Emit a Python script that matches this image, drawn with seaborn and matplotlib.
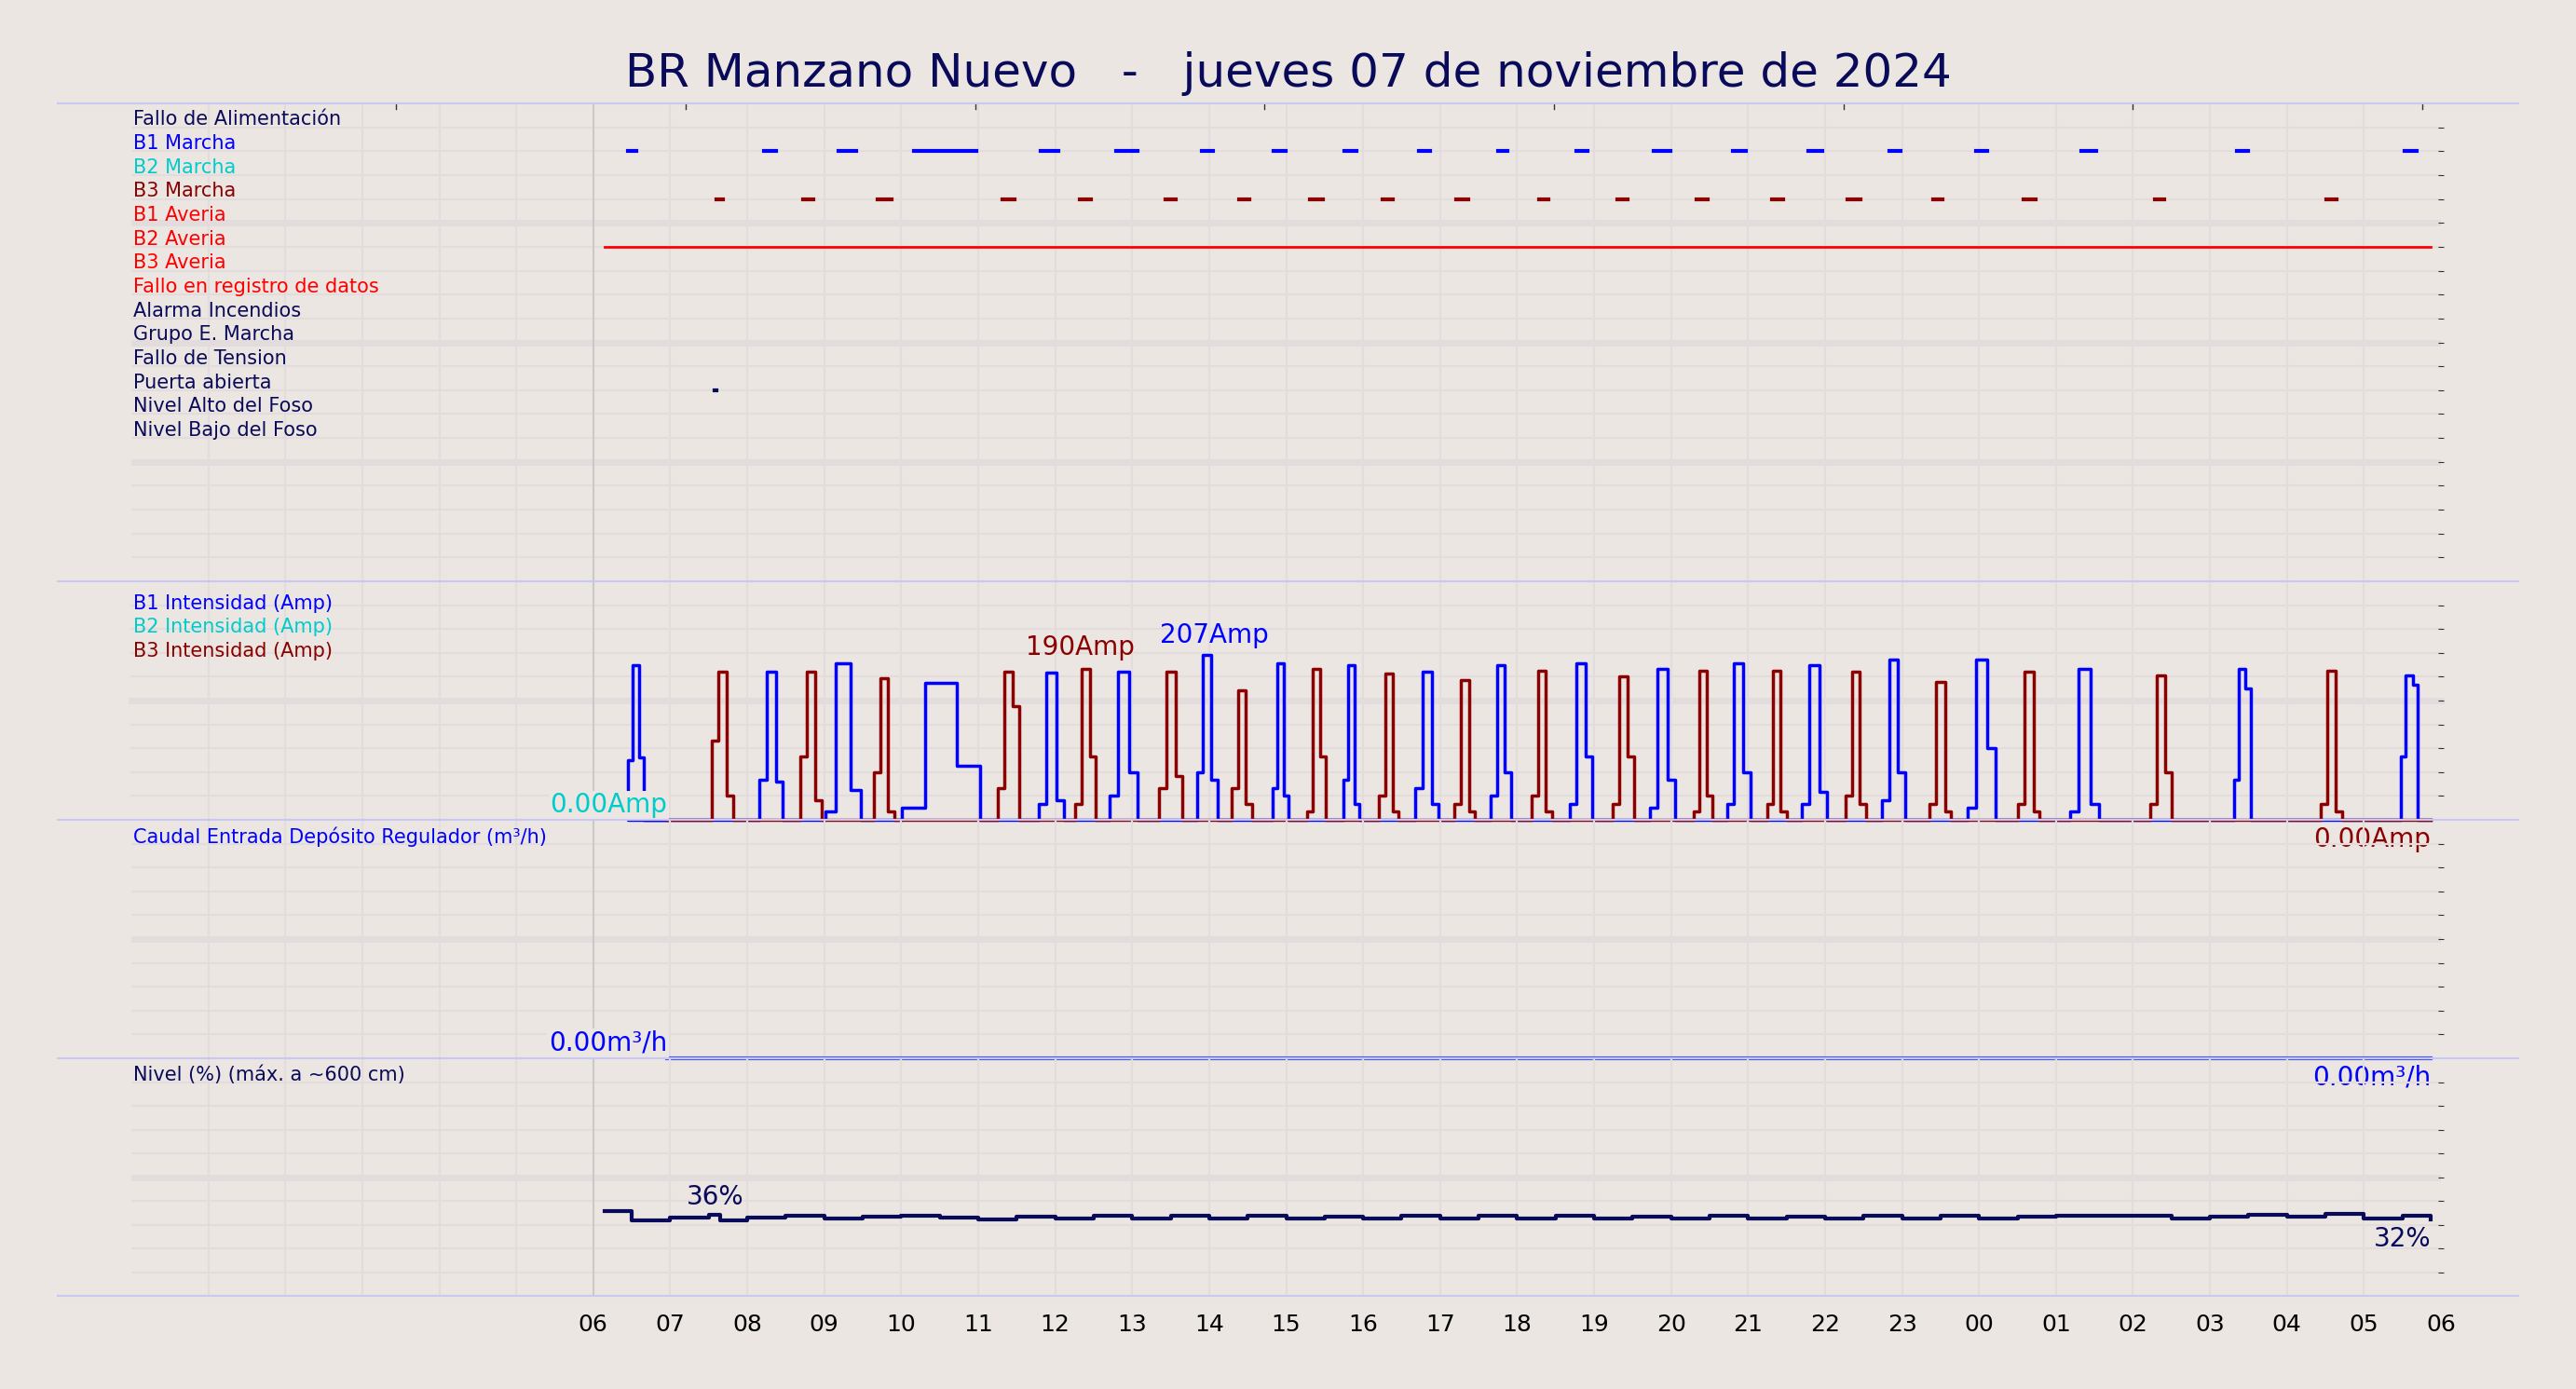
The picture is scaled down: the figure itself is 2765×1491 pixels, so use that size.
import numpy as np
import pandas as pd
import seaborn as sns
import matplotlib.pyplot as plt
from matplotlib.lines import Line2D

BG = '#ebe6e1'
GRID = '#e2dddc'
NAVY = '#0a0a5a'

title = 'BR Manzano Nuevo   -   jueves 07 de noviembre de 2024'

digital_labels = ['Fallo de Alimentación', 'B1 Marcha', 'B2 Marcha', 'B3 Marcha',
                  'B1 Averia', 'B2 Averia', 'B3 Averia', 'Fallo en registro de datos',
                  'Alarma Incendios', 'Grupo E. Marcha', 'Fallo de Tension',
                  'Puerta abierta', 'Nivel Alto del Foso', 'Nivel Bajo del Foso']
digital_colors = [NAVY, 'blue', '#00cccc', '#8b0000', 'red', 'red', 'red', 'red',
                  NAVY, NAVY, NAVY, NAVY, NAVY, NAVY]

# hours (06 = 6, next day 00 = 24)
b1_marcha = [(6.45, 6.56), (8.22, 8.37), (9.18, 9.42), (10.16, 10.98), (11.81, 12.04),
             (12.79, 13.07), (13.90, 14.05), (14.84, 14.99), (15.76, 15.91), (16.72, 16.87),
             (17.75, 17.87), (18.77, 18.92), (19.77, 19.99), (20.80, 20.97), (21.78, 21.97),
             (22.83, 22.98), (23.96, 24.11), (25.33, 25.52), (27.35, 27.50), (29.53, 29.68)]
b3_marcha = [(7.60, 7.69), (8.73, 8.86), (9.69, 9.87), (11.32, 11.47), (12.32, 12.47),
             (13.43, 13.56), (14.39, 14.52), (15.31, 15.48), (16.25, 16.38), (17.21, 17.36),
             (18.28, 18.41), (19.30, 19.43), (20.33, 20.48), (21.31, 21.46), (22.29, 22.46),
             (23.40, 23.53), (24.58, 24.73), (26.29, 26.41), (28.51, 28.64)]
b2_averia = [(6.15, 29.87)]
puerta = [(7.57, 7.60)]

# current pulses: start, end, level before peak, peak, level after peak (Amp)
b1_pulses = [(6.45, 6.66, 75, 194, 78), (8.16, 8.46, 50, 186, 48), (9.01, 9.48, 10, 197, 37),
             (10.01, 11.02, 15, 172, 68), (11.79, 12.11, 20, 185, 25), (12.71, 13.07, 30, 186, 60),
             (13.84, 14.11, 60, 207, 50), (14.82, 15.03, 40, 197, 30), (15.74, 15.95, 50, 194, 20),
             (16.68, 16.98, 40, 186, 20), (17.66, 17.92, 30, 194, 60), (18.68, 18.98, 20, 197, 80),
             (19.73, 20.05, 15, 190, 50), (20.73, 21.03, 20, 197, 60), (21.70, 22.02, 20, 194, 35),
             (22.74, 23.04, 25, 201, 60), (23.85, 24.22, 15, 201, 90), (25.18, 25.56, 10, 190, 20),
             (27.31, 27.53, 50, 190, 165), (29.48, 29.70, 80, 182, 170)]
b3_pulses = [(7.54, 7.82, 100, 186, 30), (8.69, 8.97, 80, 186, 25), (9.65, 9.91, 60, 178, 10),
             (11.25, 11.53, 40, 186, 143), (12.26, 12.53, 20, 190, 80), (13.35, 13.65, 40, 186, 55),
             (14.29, 14.56, 40, 163, 20), (15.27, 15.52, 10, 190, 80), (16.21, 16.46, 30, 184, 10),
             (17.19, 17.45, 20, 176, 10), (18.19, 18.45, 30, 188, 10), (19.24, 19.52, 20, 180, 80),
             (20.29, 20.54, 10, 188, 30), (21.25, 21.50, 20, 188, 10), (22.27, 22.53, 30, 186, 20),
             (23.36, 23.64, 20, 174, 10), (24.51, 24.79, 20, 186, 10), (26.22, 26.50, 20, 182, 60),
             (28.44, 28.72, 20, 188, 10)]
t_start, t_end = 6.96, 29.87

level_t = [6.15, 6.5, 7.0, 7.5, 7.65, 8.0, 8.5, 9.0, 9.5, 10.0, 10.5, 11.0, 11.5, 12.0, 12.5,
           13.0, 13.5, 14.0, 14.5, 15.0, 15.5, 16.0, 16.5, 17.0, 17.5, 18.0, 18.5, 19.0,
           19.5, 20.0, 20.5, 21.0, 21.5, 22.0, 22.5, 23.0, 23.5, 24.0, 24.5, 25.0, 25.5,
           26.0, 26.5, 27.0, 27.5, 28.0, 28.5, 29.0, 29.5, 29.87]
level_v = [35.5, 31.8, 32.8, 34.0, 31.8, 33.0, 33.8, 32.5, 33.5, 33.8, 33.0, 32.0, 33.2,
           32.5, 33.6, 32.6, 33.6, 32.4, 33.6, 32.6, 33.4, 32.5, 33.6, 32.4, 33.6, 32.5,
           33.6, 32.6, 33.4, 32.5, 33.7, 32.5, 33.5, 32.6, 33.6, 32.5, 33.6, 32.4, 33.2,
           33.6, 33.6, 33.8, 32.5, 33.2, 34.0, 33.2, 34.6, 32.6, 33.6, 32.0]

hours = np.arange(6, 31)
hour_labels = ['%02d' % (h % 24) for h in hours]


def pulse_series(pulses):
    t, a = [t_start], [0.0]
    for t0, t1, pre, peak, post in pulses:
        d = t1 - t0
        t += [t0, t0 + 0.3 * d, t0 + 0.7 * d, t1]
        a += [pre, peak, post, 0]
    t.append(t_end)
    a.append(0)
    return pd.DataFrame({'t': t, 'a': a})


plt.rcParams['font.family'] = ['DejaVu Sans']
fig = plt.figure(figsize=(27.65, 14.91), dpi=100, facecolor=BG)
W, H = 2765, 1491
left, right = 141 / W, 2620 / W
bounds = [111, 624, 880, 1136, 1391]
nrows = [20, 10, 10, 10]
ylims = [(20, 0), (0, 300), (0, 1), (0, 100)]
axes = []
for i in range(4):
    y0 = 1 - bounds[i + 1] / H
    ax = fig.add_axes([left, y0, right - left, (bounds[i + 1] - bounds[i]) / H])
    ax.patch.set_visible(False)
    ax.set_xlim(0, 30)
    ax.set_ylim(*ylims[i])
    lo, hi = sorted(ylims[i])
    for k in range(1, nrows[i]):
        yv = lo + (hi - lo) * k / nrows[i]
        ax.axhline(yv, color=GRID, lw=5 if k % 5 == 0 else 1.6, zorder=0)
    for h in range(1, 30):
        ax.axvline(h, color=GRID, lw=1.6, zorder=0)
    ax.axvline(6, color='#c8c4c4', lw=1.2, zorder=0)
    for s in ax.spines.values():
        s.set_visible(False)
    ax.set_yticks([lo + (hi - lo) * k / nrows[i] for k in range(1, nrows[i])])
    ax.tick_params(axis='y', left=False, right=True, labelleft=False, direction='inout',
                   length=4, color='#333333')
    ax.set_xticks([])
    axes.append(ax)

# separators
for b in bounds:
    fig.add_artist(Line2D([62 / W, 2703 / W], [1 - b / H] * 2, color='#c8c8f4', lw=1.5))

# --- digital signals
ax = axes[0]
for k, (lab, col) in enumerate(zip(digital_labels, digital_colors)):
    ax.text(0.02, k + 0.68, lab, color=col, fontsize=15, va='center', ha='left')


def draw_bars(ax, row, segs, color, lw=3):
    for t0, t1 in segs:
        df = pd.DataFrame({'t': [t0, t1], 'y': [row, row]})
        sns.lineplot(data=df, x='t', y='y', ax=ax, color=color, lw=lw,
                     estimator=None, sort=False, legend=False)


draw_bars(ax, 2, b1_marcha, 'blue')
draw_bars(ax, 4, b3_marcha, '#8b0000')
draw_bars(ax, 6, b2_averia, 'red', lw=2)
draw_bars(ax, 12, puerta, NAVY, lw=3)
for tx in [3.44, 7.2, 10.96, 14.72, 18.48, 22.24, 26.0, 29.76]:
    ax.plot([tx, tx], [0, 0.25], color='#333333', lw=1)
ax.set_xlabel('')
ax.set_ylabel('')

# --- currents
ax = axes[1]
ax.text(0.02, 272, 'B1 Intensidad (Amp)', color='blue', fontsize=15, va='center')
ax.text(0.02, 242, 'B2 Intensidad (Amp)', color='#00cccc', fontsize=15, va='center')
ax.text(0.02, 212, 'B3 Intensidad (Amp)', color='#8b0000', fontsize=15, va='center')
sns.lineplot(data=pd.DataFrame({'t': [t_start, t_end], 'a': [0, 0]}), x='t', y='a', ax=ax,
             color='#00cccc', lw=1.8, estimator=None, legend=False)
for pulses, col in [(b1_pulses, 'blue'), (b3_pulses, '#8b0000')]:
    df = pulse_series(pulses)
    sns.lineplot(data=df, x='t', y='a', ax=ax, color=col, lw=2.5, drawstyle='steps-post',
                 estimator=None, sort=False, legend=False)
for ln in ax.lines:
    ln.set_clip_on(False)
ax.text(t_start, 2, '0.00Amp', color='#00cccc', fontsize=20, ha='right', va='bottom',
        bbox=dict(fc=BG, ec='none', pad=1))
ax.text(t_end, -8, '0.00Amp', color='#8b0000', fontsize=20, ha='right', va='top', clip_on=False)
ax.text(12.32, 200, '190Amp', color='#8b0000', fontsize=20, ha='center', va='bottom')
ax.text(14.07, 216, '207Amp', color='blue', fontsize=20, ha='center', va='bottom')
ax.set_xlabel('')
ax.set_ylabel('')

# --- flow
ax = axes[2]
ax.text(0.02, 0.93, 'Caudal Entrada Depósito Regulador (m³/h)', color='blue', fontsize=15,
        va='center')
sns.lineplot(data=pd.DataFrame({'t': [t_start, t_end], 'q': [0, 0]}), x='t', y='q', ax=ax,
             color='#4455ff', lw=3, estimator=None, legend=False)
ax.lines[-1].set_clip_on(False)
ax.text(t_start, 0.01, '0.00m³/h', color='blue', fontsize=20, ha='right', va='bottom',
        bbox=dict(fc=BG, ec='none', pad=1))
ax.text(t_end, -0.025, '0.00m³/h', color='blue', fontsize=20, ha='right', va='top', clip_on=False)
ax.set_xlabel('')
ax.set_ylabel('')

# --- level
ax = axes[3]
ax.text(0.02, 93, 'Nivel (%) (máx. a ~600 cm)', color=NAVY, fontsize=15, va='center')
sns.lineplot(data=pd.DataFrame({'t': level_t, 'v': level_v}), x='t', y='v', ax=ax,
             color=NAVY, lw=3, drawstyle='steps-post', estimator=None, sort=False, legend=False)
ax.text(7.58, 36, '36%', color=NAVY, fontsize=20, ha='center', va='bottom')
ax.text(t_end, 29.5, '32%', color=NAVY, fontsize=20, ha='right', va='top')
ax.set_xlabel('')
ax.set_ylabel('')
ax.set_xticks(hours)
ax.set_xticklabels(hour_labels, fontsize=18)
ax.tick_params(axis='x', length=0, pad=14)

fig.text(0.5, 1 - 79 / H, title, color=NAVY, fontsize=36, ha='center', va='center')
fig.savefig('out.png', dpi=100, facecolor=BG)
